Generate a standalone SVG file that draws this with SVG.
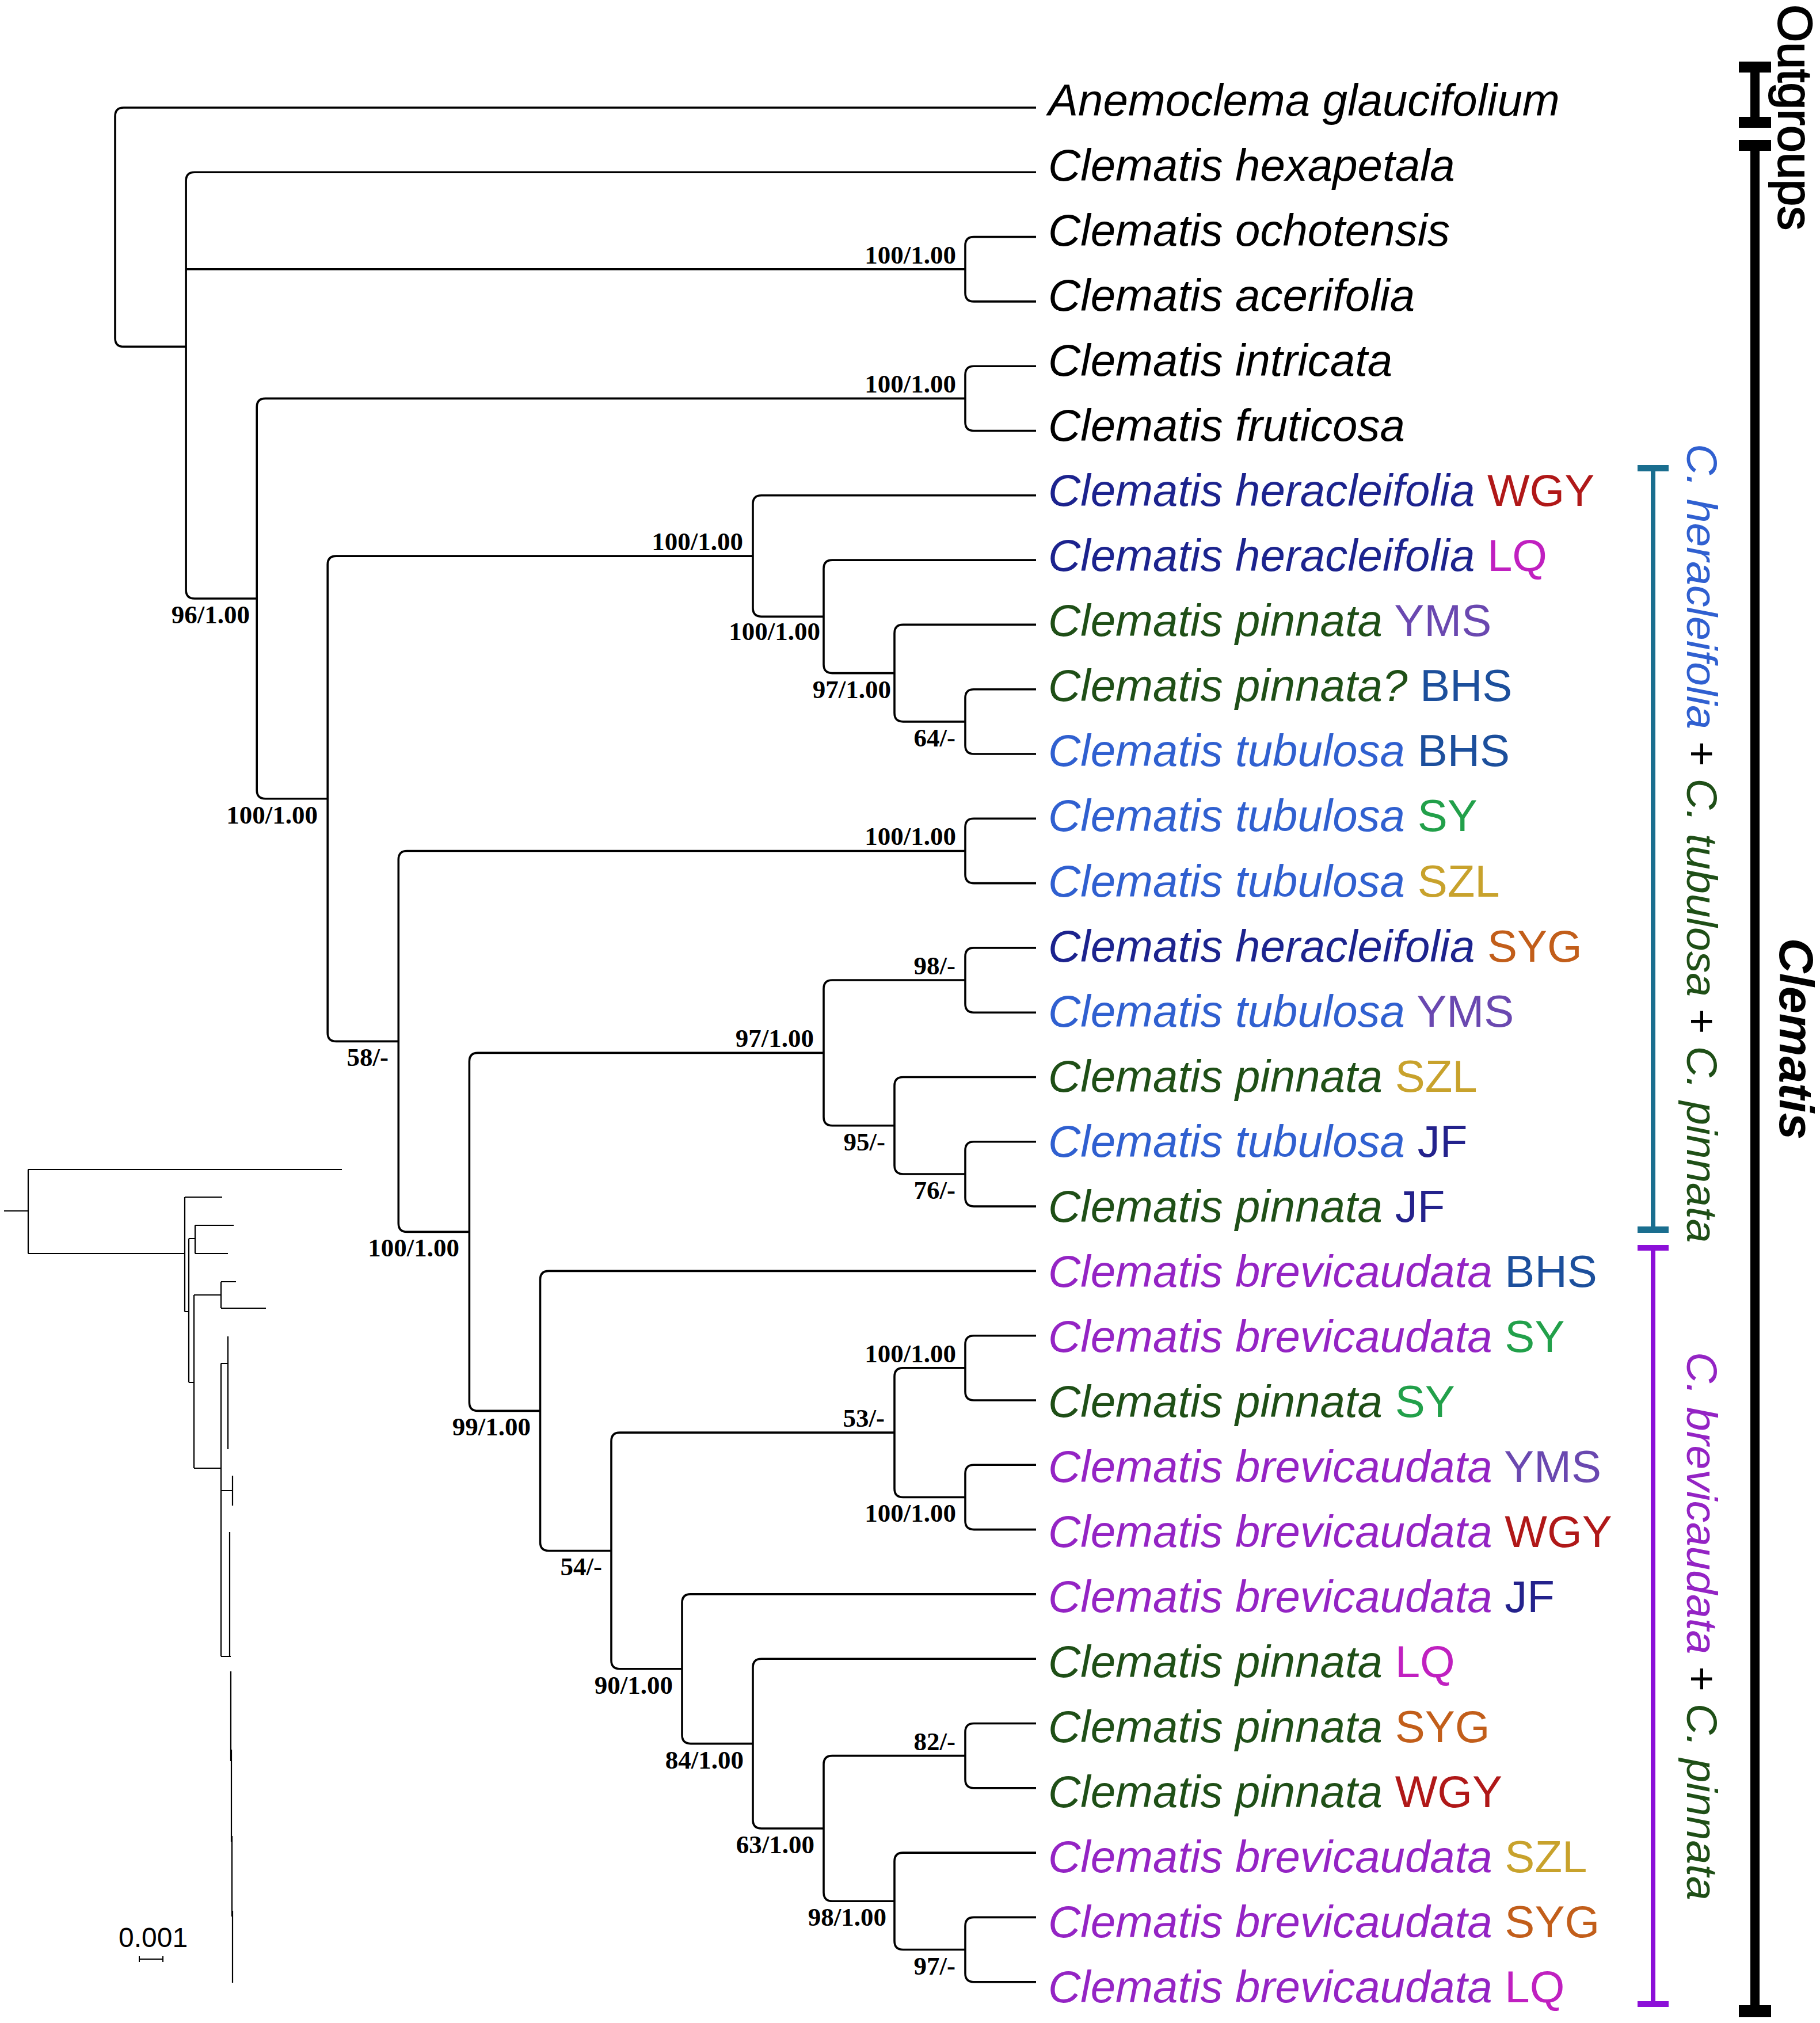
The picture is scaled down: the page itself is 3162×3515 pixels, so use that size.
<svg xmlns="http://www.w3.org/2000/svg" width="3162" height="3515" viewBox="0 0 3162 3515">
<style>
.br{fill:none;stroke:#000;stroke-width:3.6;stroke-linecap:butt}
.ins{fill:none;stroke:#000;stroke-width:2.2}
.tip{font-family:"Liberation Sans",Arial,sans-serif;font-size:78px;font-style:italic}
.code{font-style:normal}
.sup{font-family:"Liberation Serif","Times New Roman",serif;font-size:45px;font-weight:bold;text-anchor:end;fill:#000}
.blk{fill:#000}
.her{fill:#1c238e}
.tub{fill:#3060d0}
.pin{fill:#1f4f17}
.brv{fill:#9424c4}
.wgy{fill:#b01818}
.lq{fill:#c020c0}
.yms{fill:#6a48b0}
.bhs{fill:#1c4f9c}
.sy{fill:#22a04a}
.szl{fill:#c8a22c}
.syg{fill:#c25e1a}
.jf{fill:#24228c}
.side{font-family:"Liberation Sans",Arial,sans-serif;font-size:75px;font-style:italic}
</style>
<rect width="3162" height="3515" fill="#fff"/>

<g id="connectors">
<path class="br" d="M1800,187 H215 Q200,187 200,202 V587.4 Q200,602.4 215,602.4 H323.1"/>
<path class="br" d="M1800,299.3 H338.1 Q323.1,299.3 323.1,314.3 V1025.05 Q323.1,1040.05 338.1,1040.05 H446.2 M323.1,467.75 H1677"/>
<path class="br" d="M1800,411.6 H1692 Q1677,411.6 1677,426.6 V508.9 Q1677,523.9 1692,523.9 H1800"/>
<path class="br" d="M1677,692.35 H461.2 Q446.2,692.35 446.2,707.35 V1372.75 Q446.2,1387.75 461.2,1387.75 H569.2"/>
<path class="br" d="M1800,636.2 H1692 Q1677,636.2 1677,651.2 V733.5 Q1677,748.5 1692,748.5 H1800"/>
<path class="br" d="M1308,966.1 H584.2 Q569.2,966.1 569.2,981.1 V1794.4 Q569.2,1809.4 584.2,1809.4 H692.3"/>
<path class="br" d="M1800,860.8 H1323 Q1308,860.8 1308,875.8 V1056.35 Q1308,1071.35 1323,1071.35 H1431"/>
<path class="br" d="M1800,973.1 H1446 Q1431,973.1 1431,988.1 V1154.6 Q1431,1169.6 1446,1169.6 H1554"/>
<path class="br" d="M1800,1085.4 H1569 Q1554,1085.4 1554,1100.4 V1238.85 Q1554,1253.85 1569,1253.85 H1677"/>
<path class="br" d="M1800,1197.7 H1692 Q1677,1197.7 1677,1212.7 V1295 Q1677,1310 1692,1310 H1800"/>
<path class="br" d="M1677,1478.45 H707.3 Q692.3,1478.45 692.3,1493.45 V2125.4 Q692.3,2140.4 707.3,2140.4 H815.4"/>
<path class="br" d="M1800,1422.3 H1692 Q1677,1422.3 1677,1437.3 V1519.6 Q1677,1534.6 1692,1534.6 H1800"/>
<path class="br" d="M1431,1829.4 H830.4 Q815.4,1829.4 815.4,1844.4 V2436.4 Q815.4,2451.4 830.4,2451.4 H938.5"/>
<path class="br" d="M1677,1703.05 H1446 Q1431,1703.05 1431,1718.05 V1940.7 Q1431,1955.7 1446,1955.7 H1554"/>
<path class="br" d="M1800,1646.9 H1692 Q1677,1646.9 1677,1661.9 V1744.2 Q1677,1759.2 1692,1759.2 H1800"/>
<path class="br" d="M1800,1871.5 H1569 Q1554,1871.5 1554,1886.5 V2024.95 Q1554,2039.95 1569,2039.95 H1677"/>
<path class="br" d="M1800,1983.8 H1692 Q1677,1983.8 1677,1998.8 V2081.1 Q1677,2096.1 1692,2096.1 H1800"/>
<path class="br" d="M1800,2208.4 H953.5 Q938.5,2208.4 938.5,2223.4 V2679.45 Q938.5,2694.45 953.5,2694.45 H1062"/>
<path class="br" d="M1554,2489.15 H1077 Q1062,2489.15 1062,2504.15 V2884.75 Q1062,2899.75 1077,2899.75 H1185"/>
<path class="br" d="M1677,2376.85 H1569 Q1554,2376.85 1554,2391.85 V2586.45 Q1554,2601.45 1569,2601.45 H1677"/>
<path class="br" d="M1800,2320.7 H1692 Q1677,2320.7 1677,2335.7 V2418 Q1677,2433 1692,2433 H1800"/>
<path class="br" d="M1800,2545.3 H1692 Q1677,2545.3 1677,2560.3 V2642.6 Q1677,2657.6 1692,2657.6 H1800"/>
<path class="br" d="M1800,2769.9 H1200 Q1185,2769.9 1185,2784.9 V3014.6 Q1185,3029.6 1200,3029.6 H1308"/>
<path class="br" d="M1800,2882.2 H1323 Q1308,2882.2 1308,2897.2 V3162 Q1308,3177 1323,3177 H1431"/>
<path class="br" d="M1677,3050.65 H1446 Q1431,3050.65 1431,3065.65 V3288.3 Q1431,3303.3 1446,3303.3 H1554"/>
<path class="br" d="M1800,2994.5 H1692 Q1677,2994.5 1677,3009.5 V3091.8 Q1677,3106.8 1692,3106.8 H1800"/>
<path class="br" d="M1800,3219.1 H1569 Q1554,3219.1 1554,3234.1 V3372.55 Q1554,3387.55 1569,3387.55 H1677"/>
<path class="br" d="M1800,3331.4 H1692 Q1677,3331.4 1677,3346.4 V3428.7 Q1677,3443.7 1692,3443.7 H1800"/>
</g>

<g id="support">
<text class="sup" x="1661" y="457.7">100/1.00</text>
<text class="sup" x="1661" y="682.3">100/1.00</text>
<text class="sup" x="434" y="1083">96/1.00</text>
<text class="sup" x="552" y="1430.7">100/1.00</text>
<text class="sup" x="1291" y="956.1">100/1.00</text>
<text class="sup" x="1425" y="1112">100/1.00</text>
<text class="sup" x="1548" y="1213">97/1.00</text>
<text class="sup" x="1660" y="1297">64/-</text>
<text class="sup" x="1661" y="1468.4">100/1.00</text>
<text class="sup" x="675" y="1852">58/-</text>
<text class="sup" x="1660" y="1693">98/-</text>
<text class="sup" x="1414" y="1819.4">97/1.00</text>
<text class="sup" x="1538" y="1998.7">95/-</text>
<text class="sup" x="1660" y="2083">76/-</text>
<text class="sup" x="798" y="2183.4">100/1.00</text>
<text class="sup" x="922" y="2494.4">99/1.00</text>
<text class="sup" x="1661" y="2366.8">100/1.00</text>
<text class="sup" x="1537" y="2479.1">53/-</text>
<text class="sup" x="1661" y="2644.4">100/1.00</text>
<text class="sup" x="1046" y="2737.4">54/-</text>
<text class="sup" x="1169" y="2942.7">90/1.00</text>
<text class="sup" x="1292" y="3072.6">84/1.00</text>
<text class="sup" x="1660" y="3040.6">82/-</text>
<text class="sup" x="1415" y="3220">63/1.00</text>
<text class="sup" x="1540" y="3346.3">98/1.00</text>
<text class="sup" x="1660" y="3430.5">97/-</text>
</g>

<g id="t00"><text class="tip blk" x="1821" y="201">Anemoclema glaucifolium</text></g>
<g id="t01"><text class="tip blk" x="1821" y="314">Clematis hexapetala</text></g>
<g id="t02"><text class="tip blk" x="1821" y="427.1">Clematis ochotensis</text></g>
<g id="t03"><text class="tip blk" x="1821" y="540.1">Clematis acerifolia</text></g>
<g id="t04"><text class="tip blk" x="1821" y="653.2">Clematis intricata</text></g>
<g id="t05"><text class="tip blk" x="1821" y="766.2">Clematis fruticosa</text></g>
<g id="t06"><text class="tip" x="1821" y="879.2"><tspan class="her">Clematis heracleifolia</tspan><tspan class="code wgy"> WGY</tspan></text></g>
<g id="t07"><text class="tip" x="1821" y="992.3"><tspan class="her">Clematis heracleifolia</tspan><tspan class="code lq"> LQ</tspan></text></g>
<g id="t08"><text class="tip" x="1821" y="1105.3"><tspan class="pin">Clematis pinnata</tspan><tspan class="code yms"> YMS</tspan></text></g>
<g id="t09"><text class="tip" x="1821" y="1218.4"><tspan class="pin">Clematis pinnata?</tspan><tspan class="code bhs"> BHS</tspan></text></g>
<g id="t10"><text class="tip" x="1821" y="1331.4"><tspan class="tub">Clematis tubulosa</tspan><tspan class="code bhs"> BHS</tspan></text></g>
<g id="t11"><text class="tip" x="1821" y="1444.4"><tspan class="tub">Clematis tubulosa</tspan><tspan class="code sy"> SY</tspan></text></g>
<g id="t12"><text class="tip" x="1821" y="1557.5"><tspan class="tub">Clematis tubulosa</tspan><tspan class="code szl"> SZL</tspan></text></g>
<g id="t13"><text class="tip" x="1821" y="1670.5"><tspan class="her">Clematis heracleifolia</tspan><tspan class="code syg"> SYG</tspan></text></g>
<g id="t14"><text class="tip" x="1821" y="1783.6"><tspan class="tub">Clematis tubulosa</tspan><tspan class="code yms"> YMS</tspan></text></g>
<g id="t15"><text class="tip" x="1821" y="1896.6"><tspan class="pin">Clematis pinnata</tspan><tspan class="code szl"> SZL</tspan></text></g>
<g id="t16"><text class="tip" x="1821" y="2009.6"><tspan class="tub">Clematis tubulosa</tspan><tspan class="code jf"> JF</tspan></text></g>
<g id="t17"><text class="tip" x="1821" y="2122.7"><tspan class="pin">Clematis pinnata</tspan><tspan class="code jf"> JF</tspan></text></g>
<g id="t18"><text class="tip" x="1821" y="2235.7"><tspan class="brv">Clematis brevicaudata</tspan><tspan class="code bhs"> BHS</tspan></text></g>
<g id="t19"><text class="tip" x="1821" y="2348.8"><tspan class="brv">Clematis brevicaudata</tspan><tspan class="code sy"> SY</tspan></text></g>
<g id="t20"><text class="tip" x="1821" y="2461.8"><tspan class="pin">Clematis pinnata</tspan><tspan class="code sy"> SY</tspan></text></g>
<g id="t21"><text class="tip" x="1821" y="2574.8"><tspan class="brv">Clematis brevicaudata</tspan><tspan class="code yms"> YMS</tspan></text></g>
<g id="t22"><text class="tip" x="1821" y="2687.9"><tspan class="brv">Clematis brevicaudata</tspan><tspan class="code wgy"> WGY</tspan></text></g>
<g id="t23"><text class="tip" x="1821" y="2800.9"><tspan class="brv">Clematis brevicaudata</tspan><tspan class="code jf"> JF</tspan></text></g>
<g id="t24"><text class="tip" x="1821" y="2914"><tspan class="pin">Clematis pinnata</tspan><tspan class="code lq"> LQ</tspan></text></g>
<g id="t25"><text class="tip" x="1821" y="3027"><tspan class="pin">Clematis pinnata</tspan><tspan class="code syg"> SYG</tspan></text></g>
<g id="t26"><text class="tip" x="1821" y="3140"><tspan class="pin">Clematis pinnata</tspan><tspan class="code wgy"> WGY</tspan></text></g>
<g id="t27"><text class="tip" x="1821" y="3253.1"><tspan class="brv">Clematis brevicaudata</tspan><tspan class="code szl"> SZL</tspan></text></g>
<g id="t28"><text class="tip" x="1821" y="3366.1"><tspan class="brv">Clematis brevicaudata</tspan><tspan class="code syg"> SYG</tspan></text></g>
<g id="t29"><text class="tip" x="1821" y="3479.2"><tspan class="brv">Clematis brevicaudata</tspan><tspan class="code lq"> LQ</tspan></text></g>

<g id="bracket-outgroups">
<rect x="3021" y="107" width="56" height="19" fill="#000"/>
<rect x="3021" y="203" width="56" height="19" fill="#000"/>
<rect x="3041" y="116" width="16" height="97" fill="#000"/>
<text transform="translate(3090,8) rotate(90)" font-family="Liberation Sans, Arial, sans-serif" font-size="84" fill="#000" stroke="#000" stroke-width="2">Outgroups</text>
</g>
<g id="bracket-clematis">
<rect x="3021" y="243" width="56" height="19" fill="#000"/>
<rect x="3021" y="3484" width="56" height="21" fill="#000"/>
<rect x="3041" y="252" width="16" height="3242" fill="#000"/>
<text transform="translate(3092,1630) rotate(90)" font-family="Liberation Sans, Arial, sans-serif" font-size="84" font-weight="bold" font-style="italic" fill="#000">Clematis</text>
</g>
<g id="bracket-clade1">
<rect x="2845" y="808" width="54" height="11" fill="#1a6e8f"/>
<rect x="2845" y="2131" width="54" height="11" fill="#1a6e8f"/>
<rect x="2868" y="813" width="8" height="1324" fill="#1a6e8f"/>
<text class="side" transform="translate(2931,771) rotate(90)"><tspan class="tub">C. heracleifolia</tspan><tspan class="blk" font-style="normal"> + </tspan><tspan class="pin">C. tubulosa</tspan><tspan class="blk" font-style="normal"> + </tspan><tspan class="pin">C. pinnata</tspan></text>
</g>
<g id="bracket-clade2">
<rect x="2845" y="2163" width="54" height="10" fill="#8c10d8"/>
<rect x="2845" y="3477" width="54" height="10" fill="#8c10d8"/>
<rect x="2868" y="2168" width="8" height="1314" fill="#8c10d8"/>
<text class="side" transform="translate(2931,2349) rotate(90)"><tspan class="brv">C. brevicaudata</tspan><tspan class="blk" font-style="normal"> + </tspan><tspan class="pin">C. pinnata</tspan></text>
</g>

<g id="inset-tree">
<path class="ins" d="M7,2104 H49 M49,2032 V2178 M49,2032 H594 M49,2178 H321 M321,2080 V2279 M321,2080 H386 M321,2279 H328 M328,2152 V2402 M328,2152 H339 M339,2129 V2178 M339,2129 H406 M339,2178 H396 M328,2402 H337 M337,2250 V2551 M337,2250 H384 M384,2227 V2273 M384,2227 H410 M384,2273 H462 M337,2551 H384 M384,2369 V2878 M384,2369 H397 M396,2322 V2518 M384,2590 H404 M404,2564 V2616 M384,2878 H399 M399,2662 V2878 M399,2878 H401 M401,2904 V3060 M402,3040 V3200 M403,3190 V3330 M404,3320 V3445"/>
</g>
<g id="scale-bar">
<text x="206" y="3383" font-family="Liberation Sans, Arial, sans-serif" font-size="48" fill="#000">0.001</text>
<path d="M242,3404 H283 M242,3399 V3409 M283,3399 V3409" fill="none" stroke="#000" stroke-width="2"/>
</g>
</svg>
